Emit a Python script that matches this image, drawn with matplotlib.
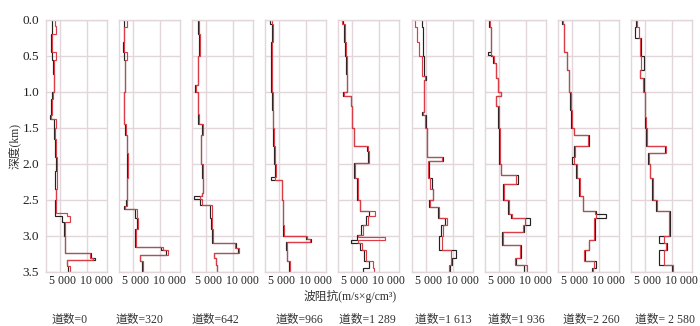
import numpy as np
import matplotlib
matplotlib.use("Agg")
import matplotlib.pyplot as plt
from matplotlib.transforms import ScaledTranslation

plt.rcParams['font.family'] = ['Liberation Serif', 'Noto Sans CJK SC']

trace_labels = ["道数=0", "道数=320", "道数=642", "道数=966", "道数=1 289",
                "道数=1 613", "道数=1 936", "道数=2 260", "道数= 2 580"]

# depth edges (km) and impedance per layer: black = true, red = inverted
edges1 = [0, 0.08, 0.2, 0.45, 0.55, 0.75, 1.0, 1.1, 1.32, 1.38, 1.5, 1.65, 1.9, 2.1, 2.35, 2.5, 2.68, 2.72, 2.8, 3.0, 3.24, 3.3, 3.34, 3.42, 3.5]
black1 = [3500, 3450, 3250, 3550, 3700, 3800, 3500, 3400, 3100, 3850, 3950, 4100, 4350, 4000, 4250, 4000, 4100, 5300, 5700, 5900, 10900, 11500, 6300, 6600]
red1 = [4100, 4300, 3600, 4200, 3900, 3850, 3700, 3450, 3300, 4200, 4000, 4250, 4500, 4500, 4300, 4250, 6300, 6800, 6000, 6000, 10600, 11300, 6400, 6900]

edges2 = [0, 0.1, 0.3, 0.45, 0.55, 0.8, 1.0, 1.2, 1.45, 1.6, 1.85, 2.2, 2.5, 2.58, 2.62, 2.75, 2.9, 3.15, 3.2, 3.27, 3.35, 3.5]
black2 = [3350, 3250, 3200, 3350, 3450, 3500, 3250, 3300, 3600, 3850, 3950, 3850, 3700, 3300, 5400, 5800, 5350, 10300, 11200, 6300, 6700]
red2 = [3900, 3350, 3250, 3800, 3500, 3550, 3300, 3400, 3700, 3950, 4000, 3900, 3800, 3500, 5700, 5900, 5500, 10600, 11500, 6400, 6800]

edges3 = [0, 0.2, 0.5, 0.9, 1.0, 1.3, 1.45, 1.6, 2.0, 2.2, 2.4, 2.44, 2.48, 2.57, 2.75, 2.9, 3.1, 3.17, 3.24, 3.3, 3.4, 3.5]
black3 = [3600, 3700, 3450, 3000, 3450, 3600, 4300, 4000, 4300, 4450, 4200, 2800, 3900, 5800, 6000, 6200, 10600, 11000, 6600, 6800, 7000]
red3 = [3750, 3800, 3550, 3150, 3550, 3700, 4400, 4100, 4400, 4500, 4300, 3800, 4200, 6100, 6200, 6300, 10400, 11200, 6500, 6900, 7100]

edges4 = [0, 0.05, 0.3, 0.5, 0.8, 1.0, 1.25, 1.5, 1.75, 2.0, 2.18, 2.22, 2.5, 2.85, 3.0, 3.04, 3.08, 3.2, 3.35, 3.5]
black4 = [3300, 3650, 3600, 3550, 3600, 3750, 3800, 3900, 4100, 4300, 3600, 5500, 5700, 5750, 10000, 11000, 6300, 6500, 6900]
red4 = [3750, 3850, 3700, 3650, 3750, 3800, 3900, 4000, 4200, 4400, 4200, 5600, 5800, 5900, 10300, 10800, 6500, 6600, 7100]

edges5 = [0, 0.05, 0.3, 0.5, 0.75, 1.0, 1.06, 1.2, 1.5, 1.75, 1.82, 1.98, 2.2, 2.5, 2.65, 2.72, 2.85, 2.98, 3.01, 3.05, 3.1, 3.2, 3.35, 3.45, 3.5]
black5 = [3400, 3500, 3700, 3800, 4000, 3300, 4800, 5000, 5300, 7800, 8100, 5300, 5900, 6500, 8300, 7600, 6700, 5900, 5900, 4800, 6600, 7300, 8300, 7000]
red5 = [3200, 3700, 3900, 4000, 4100, 3500, 4900, 5100, 5400, 8000, 8300, 5500, 6100, 6600, 9300, 8000, 7000, 6200, 11300, 6200, 6800, 7600, 8900, 9200]

edges6 = [0, 0.1, 0.3, 0.5, 0.78, 0.84, 1.0, 1.28, 1.32, 1.5, 1.9, 1.96, 2.2, 2.35, 2.5, 2.6, 2.75, 2.85, 3.0, 3.2, 3.3, 3.4, 3.5]
black6 = [4350, 4400, 4450, 4600, 5100, 4700, 4650, 4300, 4950, 5250, 8300, 5500, 6100, 6400, 5600, 7300, 8600, 7900, 7500, 10600, 9900, 9500]
red6 = [2900, 3300, 3700, 4300, 4800, 4600, 4600, 4500, 4850, 5200, 8100, 5400, 5800, 6300, 5700, 7500, 9000, 8200, 8000, 9700, 9800, 9300]

edges7 = [0, 0.1, 0.45, 0.48, 0.5, 0.6, 0.8, 1.0, 1.05, 1.2, 1.5, 2.0, 2.15, 2.28, 2.5, 2.7, 2.75, 2.85, 2.95, 3.12, 3.3, 3.4, 3.5]
black7 = [3200, 3500, 2900, 3600, 3900, 4400, 4800, 5400, 4400, 4900, 5100, 5350, 8600, 5800, 6700, 7200, 10800, 9700, 5600, 9200, 8300, 9800]
red7 = [3300, 3600, 3600, 3700, 4000, 4500, 4900, 5300, 4500, 5000, 5200, 5400, 8300, 5900, 6800, 7400, 9900, 9500, 5700, 9000, 8100, 10200]

edges8 = [0, 0.05, 0.45, 0.7, 1.0, 1.25, 1.5, 1.6, 1.75, 1.9, 2.0, 2.2, 2.45, 2.65, 2.7, 2.75, 3.05, 3.2, 3.35, 3.45, 3.5]
black8 = [3100, 3500, 4000, 4400, 4700, 4900, 5300, 8200, 5300, 5100, 5800, 6300, 7000, 9600, 11400, 9300, 8300, 7400, 9500, 8800]
red8 = [3300, 3600, 4100, 4500, 4800, 5000, 5400, 8100, 5500, 5400, 5900, 6500, 7100, 9300, 9500, 9200, 8200, 7200, 9200, 8900]

edges9 = [0, 0.1, 0.25, 0.5, 0.7, 0.8, 1.0, 1.35, 1.5, 1.75, 1.85, 2.0, 2.2, 2.5, 2.65, 3.0, 3.1, 3.2, 3.4, 3.5]
black9 = [3400, 3200, 4200, 4900, 4000, 4800, 4950, 5100, 5200, 8700, 5600, 6000, 6300, 7000, 9800, 7700, 9200, 7600, 10000]
red9 = [3500, 3800, 4000, 4300, 4100, 4600, 5000, 5200, 5300, 9000, 5700, 5900, 6500, 7200, 9500, 8600, 9000, 8500, 10200]

panels = [(edges1, black1, red1), (edges2, black2, red2), (edges3, black3, red3),
          (edges4, black4, red4), (edges5, black5, red5), (edges6, black6, red6),
          (edges7, black7, red7), (edges8, black8, red8), (edges9, black9, red9)]

W, H = 700, 326
fig = plt.figure(figsize=(7.0, 3.26), dpi=100)

lefts = [46, 119, 192, 265, 338, 412, 485, 558, 631]
label_x = [52, 116, 192, 276, 339, 415, 488, 563, 635]
grid_c = '#e3d6da'
# the two x tick labels sit a little right of their gridlines
shifts = [2 / 72, 7 / 72]

for i, (ed, bk, rd) in enumerate(panels):
    ax = fig.add_axes([lefts[i] / W, 1 - 272 / H, 61 / W, 252 / H])
    ax.stairs(bk, ed, orientation='horizontal', baseline=None, color='#222222', lw=0.85)
    ax.stairs(rd, ed, orientation='horizontal', baseline=None, color='#da3d45', lw=0.85)
    ax.set_xlim(2380, 13850)
    ax.set_ylim(3.5, 0)
    ax.set_xticks([5000, 10000])
    ax.set_xticklabels(['5 000', '10 000'])
    ax.set_yticks(np.arange(0, 3.51, 0.5))
    ax.grid(True, color=grid_c, lw=1.0)
    ax.set_axisbelow(True)
    ax.tick_params(length=0, labelsize=8.5, pad=2, labelcolor='#222222')
    for lab, dx in zip(ax.get_xticklabels(), shifts):
        lab.set_transform(lab.get_transform() + ScaledTranslation(dx, 0, fig.dpi_scale_trans))
    for s in ax.spines.values():
        s.set_color(grid_c)
        s.set_linewidth(1.0)
    if i == 0:
        ax.set_yticklabels(['%.1f' % v for v in np.arange(0, 3.51, 0.5)])
        ax.tick_params(axis='y', labelsize=9.5, pad=5)
    else:
        ax.set_yticklabels([])
    fig.text(label_x[i] / W, 1 - 320 / H, trace_labels[i], ha='left', va='center',
             fontsize=8.5, color='#333333')

fig.text(350 / W, 1 - 296 / H, '波阻抗(m/s×g/cm³)', ha='center', va='center',
         fontsize=8.5, color='#333333')
fig.text(14 / W, 1 - 146 / H, '深度(km)', ha='center', va='center', rotation=90,
         fontsize=8.5, color='#333333')

fig.savefig('out.png', dpi=100)
